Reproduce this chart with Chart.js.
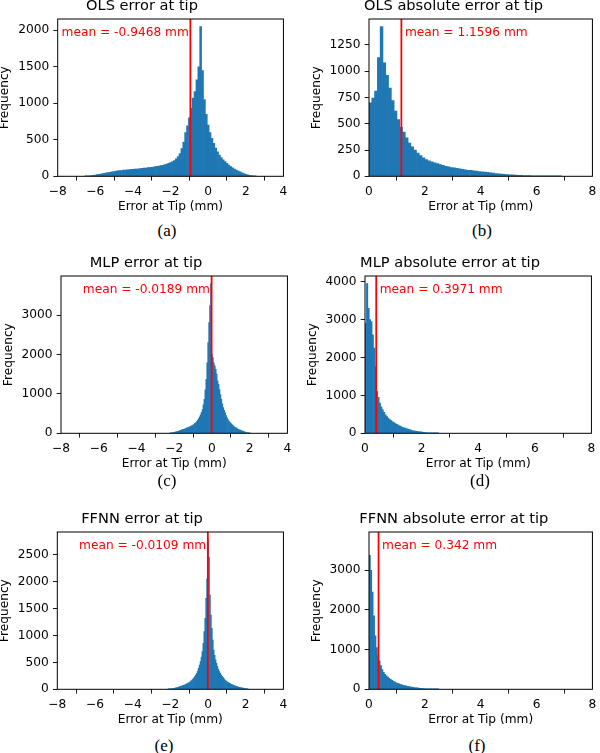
<!DOCTYPE html>
<html>
<head>
<meta charset="utf-8">
<script src="https://cdn.jsdelivr.net/npm/chart.js@4.4.1/dist/chart.umd.min.js"></script>
<style>
  html, body { margin: 0; padding: 0; background: #fff; }
  #page { position: relative; width: 600px; height: 753px; overflow: hidden; }
  #page canvas { position: absolute; }
  .cap { position: absolute; font-family: 'Liberation Serif', serif; font-size: 17px; color: #000; transform: translate(-50%, -50%); white-space: nowrap; }
</style>
</head>
<body>
<div id="page">
  <canvas id="ha"></canvas>
  <canvas id="hb"></canvas>
  <canvas id="hc"></canvas>
  <canvas id="hd"></canvas>
  <canvas id="he"></canvas>
  <canvas id="hf"></canvas>
  <div class="cap" style="left:167px;top:231px">(a)</div>
  <div class="cap" style="left:482px;top:231px">(b)</div>
  <div class="cap" style="left:167px;top:481px">(c)</div>
  <div class="cap" style="left:480px;top:481px">(d)</div>
  <div class="cap" style="left:164px;top:746px">(e)</div>
  <div class="cap" style="left:477px;top:746px">(f)</div>
</div>
<script>
// histogram counts, bins of equal width starting at the given centre
const olsErrStart = -6.5, olsErrWidth = 0.1;
const olsErrCounts = [5, 6, 8, 10, 14, 18, 22, 26, 31, 36,
  41, 46, 51, 56, 60, 64, 70, 76, 78, 80,
  84, 86, 88, 90, 94, 96, 98, 100, 104, 106,
  110, 112, 114, 118, 120, 123, 128, 132, 136, 140,
  146, 152, 160, 168, 176, 188, 200, 215, 240, 270,
  310, 380, 470, 600, 690, 800, 930, 1070, 1160, 1320,
  1500, 2050, 1450, 1050, 850, 700, 600, 520, 450, 385,
  335, 292, 255, 224, 200, 178, 155, 132, 115, 100,
  86, 73, 60, 46, 36, 27, 20, 14, 9, 5,
  3];

const olsAbsStart = 0.05, olsAbsWidth = 0.1;
const olsAbsCounts = [700, 745, 810, 1130, 1425, 1080, 960, 840, 720, 620,
  540, 465, 420, 365, 315, 280, 250, 222, 198, 176,
  160, 148, 138, 128, 120, 112, 104, 96, 90, 84,
  80, 76, 72, 67, 62, 58, 56, 53, 50, 46,
  43, 40, 37, 34, 31, 27, 24, 21, 18, 16,
  14, 13, 11, 10, 9, 8, 7, 6, 5, 4,
  4, 3, 3, 2, 2, 1, 1, 1, 1];

const mlpErrStart = -2.2, mlpErrWidth = 0.05;
const mlpErrCounts = [5, 10, 15, 20, 25, 30, 37, 44, 50, 58,
  66, 75, 85, 92, 100, 110, 120, 130, 140, 150,
  160, 172, 185, 198, 210, 230, 250, 275, 300, 335,
  375, 420, 470, 530, 600, 720, 860, 1100, 1370, 1790,
  2300, 2810, 3240, 3800, 2000, 1920, 1790, 1710, 1620, 1500,
  1330, 1240, 1110, 980, 860, 750, 650, 580, 520, 450,
  390, 345, 310, 280, 250, 225, 205, 180, 160, 145,
  130, 115, 100, 90, 80, 70, 60, 50, 42, 33,
  25, 18, 12, 8, 5];

const mlpAbsStart = 0.025, mlpAbsWidth = 0.05;
const mlpAbsCounts = [2900, 3950, 3300, 3000, 2950, 2600, 2250, 1760, 1100, 950,
  800, 700, 620, 550, 490, 440, 400, 365, 335, 305,
  280, 255, 235, 215, 195, 175, 160, 145, 135, 120,
  110, 95, 85, 75, 65, 57, 50, 45, 40, 36,
  32, 27, 22, 18, 15, 12, 10, 8, 6, 5,
  3, 2];

const ffnnErrStart = -2.1, ffnnErrWidth = 0.05;
const ffnnErrCounts = [3, 5, 6, 9, 12, 15, 19, 23, 28, 32,
  37, 43, 49, 55, 62, 68, 74, 80, 87, 95,
  104, 114, 124, 140, 155, 172, 192, 212, 235, 265,
  297, 340, 390, 450, 514, 600, 700, 854, 1070, 1320,
  1690, 2050, 2780, 2450, 1750, 1380, 1130, 916, 730, 630,
  545, 480, 420, 370, 328, 295, 266, 240, 217, 195,
  173, 157, 142, 130, 120, 109, 99, 91, 83, 75,
  68, 62, 55, 49, 43, 38, 34, 29, 25, 21,
  18, 15, 12, 8, 5];

const ffnnAbsStart = 0.025, ffnnAbsWidth = 0.05;
const ffnnAbsCounts = [3380, 3000, 2450, 1850, 1350, 1050, 850, 720, 600, 500,
  430, 380, 340, 305, 275, 250, 225, 200, 180, 163,
  150, 137, 124, 112, 102, 93, 85, 77, 70, 63,
  57, 51, 45, 40, 35, 30, 26, 22, 19, 16,
  13, 11, 9, 7, 6, 5, 4, 3, 2, 1];

// tick labels
const errXTicks = [-8, -6, -4, -2, 0, 2, 4];
const absXTicks = [0, 2, 4, 6, 8];
const olsErrYTicks = [0, 500, 1000, 1500, 2000];
const olsAbsYTicks = [0, 250, 500, 750, 1000, 1250];
const mlpErrYTicks = [0, 1000, 2000, 3000];
const mlpAbsYTicks = [0, 1000, 2000, 3000, 4000];
const ffnnErrYTicks = [0, 500, 1000, 1500, 2000, 2500];
const ffnnAbsYTicks = [0, 1000, 2000, 3000];

const titles = ['OLS error at tip', 'OLS absolute error at tip', 'MLP error at tip',
  'MLP absolute error at tip', 'FFNN error at tip', 'FFNN absolute error at tip'];
const means = [-0.9468, 1.1596, -0.0189, 0.3971, -0.0109, 0.342];
const xLabel = 'Error at Tip (mm)';
const yLabel = 'Frequency';

Chart.defaults.font.family = "'DejaVu Sans', sans-serif";
Chart.defaults.color = '#000';

// red mean line + label, and the black frame round the axes
const meanLine = {
  id: 'meanLine',
  afterDatasetsDraw(chart, args, opts) {
    const { ctx, chartArea: a, scales: { x } } = chart;
    const px = x.getPixelForValue(opts.value);
    ctx.save();
    ctx.strokeStyle = '#ff0000';
    ctx.lineWidth = 1.8;
    ctx.beginPath();
    ctx.moveTo(px, a.top);
    ctx.lineTo(px, a.bottom);
    ctx.stroke();
    ctx.fillStyle = '#ff0000';
    ctx.font = "12.2px 'DejaVu Sans'";
    ctx.textBaseline = 'alphabetic';
    const label = 'mean = ' + opts.value + ' mm';
    if (opts.value < 0) {
      ctx.textAlign = 'right';
      ctx.fillText(label, px - 1.6, a.top + 16.5);
    } else {
      ctx.textAlign = 'left';
      ctx.fillText(label, px + 3.5, a.top + 16.5);
    }
    ctx.strokeStyle = '#000';
    ctx.lineWidth = 1;
    ctx.strokeRect(a.left, a.top, a.right - a.left, a.bottom - a.top);
    ctx.restore();
  }
};

function histogram(id, plot, title, mean, start, width, counts, xTicks, yTicks, yMax) {
  const canvas = document.getElementById(id);
  const left = Math.round(plot.l - 58.5);
  const top = Math.round(plot.t - 20);
  const right = Math.min(600, Math.ceil(plot.r + 6));
  const bottom = Math.round(plot.b + 42);
  const w = right - left, h = bottom - top;
  canvas.width = w;
  canvas.height = h;
  canvas.style.left = left + 'px';
  canvas.style.top = top + 'px';
  canvas.style.width = w + 'px';
  canvas.style.height = h + 'px';

  const points = counts.map((c, i) => ({ x: start + i * width, y: c }));
  const tickGrid = { drawOnChartArea: false, drawTicks: true, tickLength: 4.3, tickWidth: 0.9, tickColor: '#000' };

  return new Chart(canvas, {
    type: 'bar',
    data: {
      datasets: [{
        data: points,
        backgroundColor: '#1f77b4',
        borderWidth: 0,
        barPercentage: 1,
        categoryPercentage: 1
      }]
    },
    options: {
      responsive: false,
      animation: false,
      devicePixelRatio: 1,
      layout: { padding: { left: 0, top: 0, right: w - (plot.r - left), bottom: h - (plot.b - top) - 40 } },
      plugins: {
        legend: { display: false },
        tooltip: { enabled: false },
        title: {
          display: true,
          text: title,
          color: '#000',
          font: { size: 14.6, weight: 'normal', lineHeight: 1 },
          padding: { top: 0, bottom: plot.t - top - 14.6 }
        },
        meanLine: { value: mean }
      },
      scales: {
        x: {
          type: 'linear',
          min: xTicks[0],
          max: xTicks[xTicks.length - 1],
          offset: false,
          afterBuildTicks: (s) => { s.ticks = xTicks.map((v) => ({ value: v })); },
          afterFit: (s) => { s.height = 40; },
          grid: tickGrid,
          border: { display: false },
          ticks: {
            padding: 3.7,
            autoSkip: false,
            maxRotation: 0,
            font: { size: 12.2 },
            color: '#000',
            callback: (v) => (v < 0 ? '\u2212' + (-v) : String(v))
          },
          title: { display: true, text: xLabel, color: '#000', font: { size: 12.2, lineHeight: 1 }, padding: { top: 0, bottom: 2.9 } }
        },
        y: {
          min: 0,
          max: yMax,
          afterBuildTicks: (s) => { s.ticks = yTicks.map((v) => ({ value: v })); },
          afterFit: (s) => { s.width = plot.l - left; },
          grid: tickGrid,
          border: { display: false },
          ticks: {
            autoSkip: false,
            padding: 4.2,
            font: { size: 12.2 },
            color: '#000',
            callback: (v) => String(v)
          },
          title: { display: true, text: yLabel, color: '#000', font: { size: 12.2, lineHeight: 1 }, padding: { top: 0, bottom: 0 } }
        }
      }
    },
    plugins: [meanLine]
  });
}

histogram('ha', { l: 57.7, t: 19, r: 285, b: 176.3 }, titles[0], means[0], olsErrStart, olsErrWidth, olsErrCounts, errXTicks, olsErrYTicks, 2155);
histogram('hb', { l: 369, t: 19, r: 596, b: 176.3 }, titles[1], means[1], olsAbsStart, olsAbsWidth, olsAbsCounts, absXTicks, olsAbsYTicks, 1497);
histogram('hc', { l: 61, t: 276, r: 289, b: 433.3 }, titles[2], means[2], mlpErrStart, mlpErrWidth, mlpErrCounts, errXTicks, mlpErrYTicks, 3990);
histogram('hd', { l: 365, t: 276, r: 593, b: 433.3 }, titles[3], means[3], mlpAbsStart, mlpAbsWidth, mlpAbsCounts, absXTicks, mlpAbsYTicks, 4150);
histogram('he', { l: 57.3, t: 532, r: 285, b: 689.3 }, titles[4], means[4], ffnnErrStart, ffnnErrWidth, ffnnErrCounts, errXTicks, ffnnErrYTicks, 2921);
histogram('hf', { l: 369, t: 532, r: 596.7, b: 689.3 }, titles[5], means[5], ffnnAbsStart, ffnnAbsWidth, ffnnAbsCounts, absXTicks, ffnnAbsYTicks, 3966);
</script>
</body>
</html>
